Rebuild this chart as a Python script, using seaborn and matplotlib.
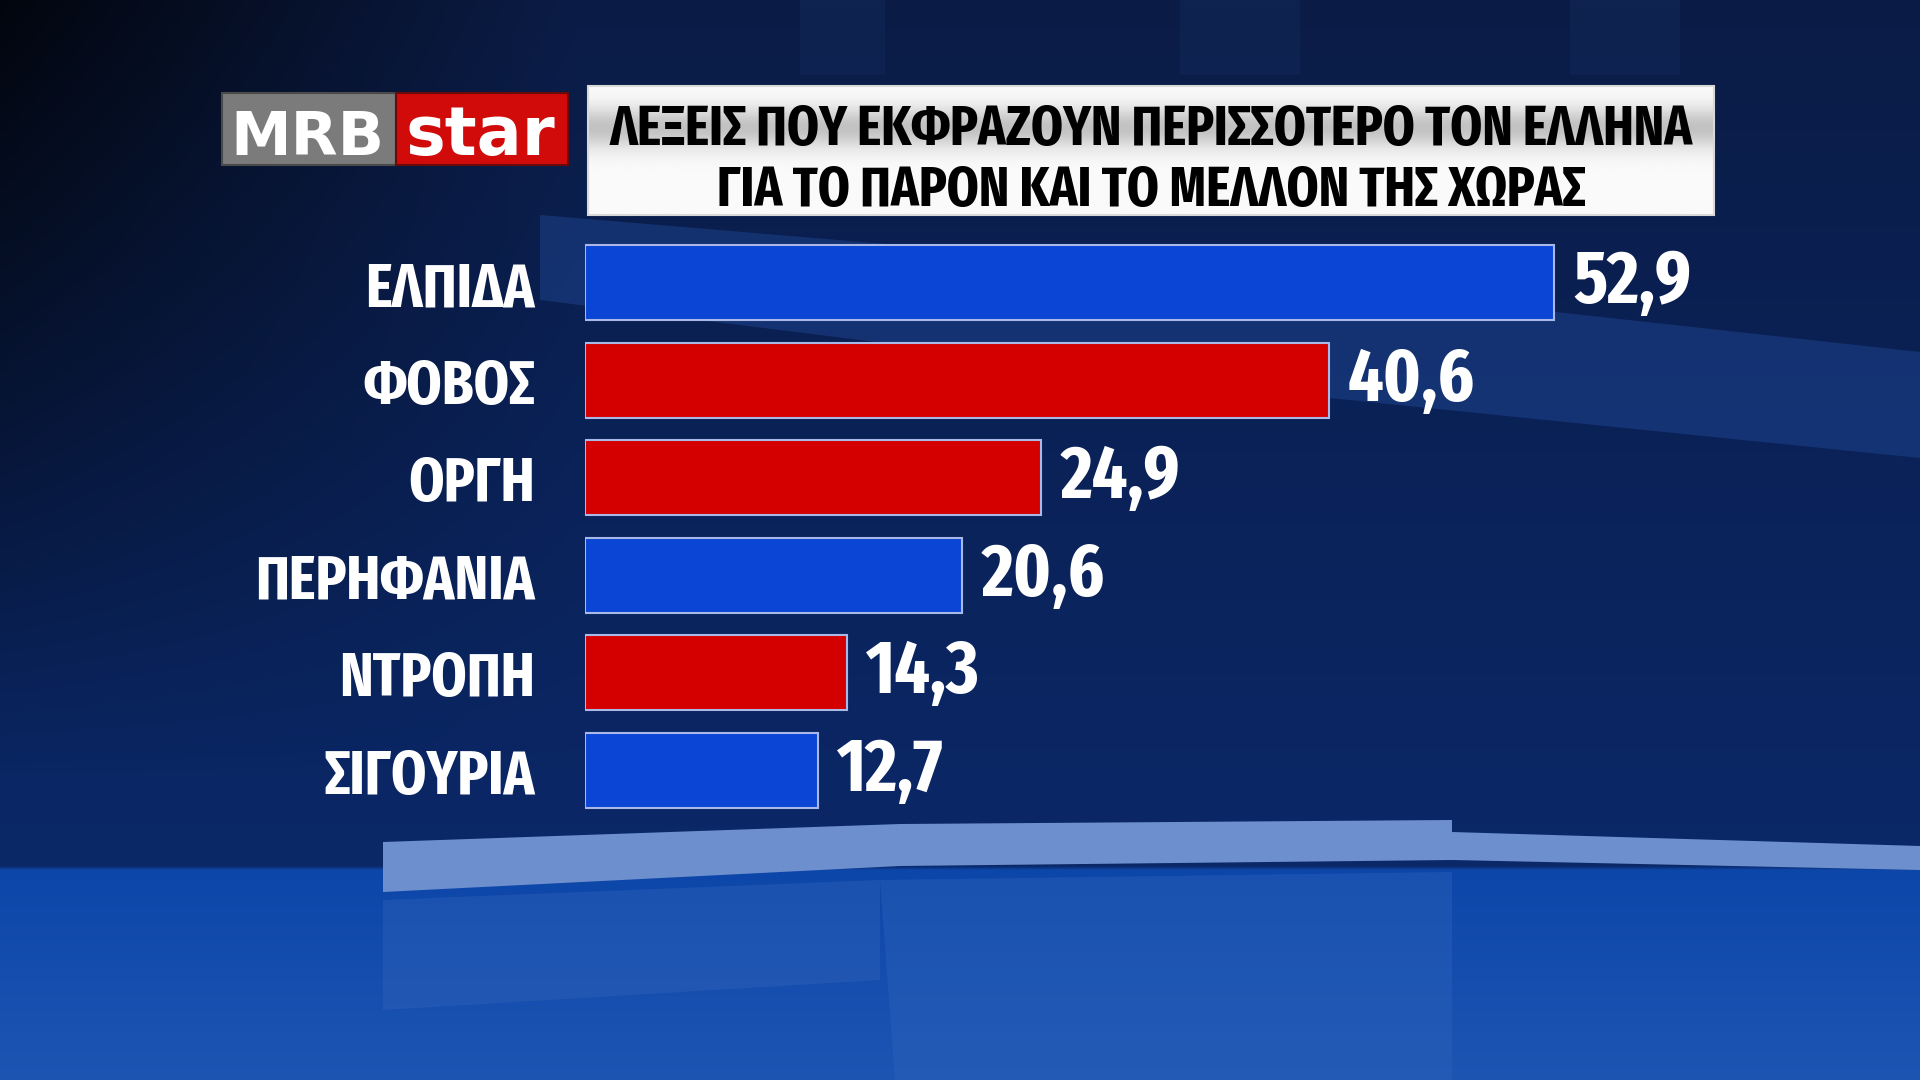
import os

import matplotlib
matplotlib.use("Agg")
import matplotlib.pyplot as plt
import numpy as np
import seaborn as sns
from matplotlib import font_manager as fm
from matplotlib.colors import to_rgb
from matplotlib.ft2font import FT2Font
from matplotlib.patches import Polygon, Rectangle

# data
categories = ["ΕΛΠΙΔΑ", "ΦΟΒΟΣ", "ΟΡΓΗ", "ΠΕΡΗΦΑΝΙΑ", "ΝΤΡΟΠΗ", "ΣΙΓΟΥΡΙΑ"]
values = [52.9, 40.6, 24.9, 20.6, 14.3, 12.7]
bar_colors = ["#0a45d6", "#d40000", "#d40000", "#0a45d6", "#d40000", "#0a45d6"]
title_lines = ["ΛΕΞΕΙΣ ΠΟΥ ΕΚΦΡΑΖΟΥΝ ΠΕΡΙΣΣΟΤΕΡΟ ΤΟΝ ΕΛΛΗΝΑ",
               "ΓΙΑ ΤΟ ΠΑΡΟΝ ΚΑΙ ΤΟ ΜΕΛΛΟΝ ΤΗΣ ΧΩΡΑΣ"]
logo_left, logo_right = "MRB", "star"


def condensed_bold():
    """Look for an installed condensed bold face that has Greek."""
    best, best_score = None, -1e9
    for f in fm.fontManager.ttflist:
        key = (f.name + " " + os.path.basename(f.fname)).lower().replace(" ", "").replace("-", "")
        if "condensed" not in key and "narrow" not in key:
            continue
        if f.style != "normal" or "mono" in key or "italic" in key:
            continue
        try:
            if 0x3A9 not in FT2Font(f.fname).get_charmap():
                continue
        except Exception:
            continue
        if "extracondensed" in key:
            score = 30
        elif "semicondensed" in key:
            score = 10
        else:
            score = 20
        w = f.weight if isinstance(f.weight, int) else fm.weight_dict.get(f.weight, 400)
        score -= abs(w - 750) / 40
        if key.startswith("notosans"):
            score += 3
        if score > best_score:
            best, best_score = f, score
    if best is None:
        return fm.FontProperties(family="DejaVu Sans", weight="bold")
    return fm.FontProperties(fname=best.fname)


sns.set_theme(style="white")
plt.rcParams["font.family"] = ["DejaVu Sans"]
FP = condensed_bold()

fig = plt.figure(figsize=(19.2, 10.8), dpi=100)

# --- studio-like background ---
bg = fig.add_axes([0, 0, 1, 1], zorder=-10)
H, W = 270, 480
yy, xx = np.mgrid[0:H, 0:W] / np.array([H, W])[:, None, None]
top = np.array(to_rgb("#0b1c46"))
mid = np.array(to_rgb("#0a2766"))
low = np.array(to_rgb("#0c46a8"))
bot = np.array(to_rgb("#1d55b3"))
t1 = np.clip(yy / 0.76, 0, 1)[..., None]
img = top * (1 - t1) + mid * t1
t2 = np.clip((yy - 0.80) / 0.20, 0, 1)[..., None]
img = np.where((yy > 0.80)[..., None], low * (1 - t2) + bot * t2, img)
dark = np.clip(1 - xx / 0.30, 0, 1) * np.clip(1 - yy / 0.72, 0, 1)
img = img * (1 - 0.8 * dark[..., None])
bg.imshow(img, extent=[0, 1920, 1080, 0], aspect="auto", interpolation="bilinear")
# soft top panels
for x0, x1 in ((800, 885), (1180, 1300), (1570, 1680)):
    bg.add_patch(Rectangle((x0, 0), x1 - x0, 75, facecolor="#2a4a8a", alpha=0.15, lw=0))
bg.add_patch(Polygon([(540, 215), (1100, 262), (1920, 352), (1920, 458),
                      (1300, 395), (540, 300)], closed=True,
                     facecolor="#2b5ab5", alpha=0.32, lw=0))
# lower floor panels
bg.add_patch(Polygon([(383, 900), (880, 880), (880, 980), (383, 1010)], closed=True,
                     facecolor="#3d6cc0", alpha=0.3, lw=0))
bg.add_patch(Polygon([(880, 880), (1452, 872), (1452, 1080), (895, 1080)], closed=True,
                     facecolor="#2f64bd", alpha=0.4, lw=0))
bg.add_patch(Polygon([(383, 842), (900, 824), (1452, 820), (1452, 832),
                      (1920, 846), (1920, 870), (1452, 860), (900, 866),
                      (383, 892)], closed=True, facecolor="#6d8fce", lw=0))

# --- header: logo + title box ---
bg.add_patch(Rectangle((222, 93), 174, 72, facecolor="#7b7b7b", edgecolor="#4a4a4a", lw=1.5))
bg.add_patch(Rectangle((396, 93), 172, 72, facecolor="#d10a0a", edgecolor="#6a0a0a", lw=1.5))
t_mrb = bg.text(307, 155, logo_left, color="white", fontsize=46, fontweight="bold",
                ha="center", va="baseline")
t_star = bg.text(480, 155, logo_right, color="white", fontsize=50, fontweight="bold",
                 ha="center", va="baseline")

tb = np.linspace(0, 1, 64)
shade = 0.98 - 0.22 * np.exp(-((tb - 0.32) / 0.16) ** 2)
bg.imshow(np.repeat(shade[:, None], 2, axis=1), cmap="gray", vmin=0, vmax=1,
          extent=[588, 1714, 215, 86], aspect="auto", zorder=2)
bg.add_patch(Rectangle((588, 86), 1126, 129, facecolor="none", edgecolor="#d8d8d8", lw=1.5, zorder=3))
t_title = [bg.text(1151, y, line, color="black", fontproperties=FP, fontsize=46,
                   ha="center", va="baseline", zorder=4)
           for y, line in zip((145, 206), title_lines)]
bg.set_xlim(0, 1920)
bg.set_ylim(1080, 0)
bg.axis("off")

# --- bars ---
ax = fig.add_axes([585 / 1920, 1 - 819 / 1080, 1099 / 1920, 585 / 1080])
ax.set_facecolor("none")
sns.barplot(x=values, y=categories, hue=categories,
            palette=dict(zip(categories, bar_colors)), legend=False,
            orient="h", width=0.77, edgecolor="#a9b8e6", linewidth=1.5,
            saturation=1, ax=ax)
ax.set_xlim(0, 60)
value_texts = []
for cont, v in zip(ax.containers, values):
    value_texts += ax.bar_label(cont, labels=[f"{v:.1f}".replace(".", ",")], padding=14,
                                color="white", fontproperties=FP, fontsize=58)
ax.tick_params(axis="y", length=0, pad=36, labelcolor="white")
for lab in ax.get_yticklabels():
    lab.set_fontproperties(FP)
    lab.set_fontsize(52)
ax.set_xticks([])
ax.set_xlabel("")
ax.set_ylabel("")
sns.despine(ax=ax, left=True, bottom=True)

# shrink texts that run wider than in the reference
r = fig.canvas.get_renderer()


def shrink(texts, ref_text, width_px):
    w = ref_text.get_window_extent(r).width
    if w > width_px:
        for t in texts:
            t.set_fontsize(t.get_fontsize() * width_px / w)


shrink(t_title, t_title[0], 1086)
shrink([t_mrb], t_mrb, 154)
shrink([t_star], t_star, 150)
shrink(value_texts, value_texts[0], 118)
ticklabels = ax.get_yticklabels()
shrink(ticklabels, ticklabels[3], 280)

fig.savefig("out.png", dpi=100)
